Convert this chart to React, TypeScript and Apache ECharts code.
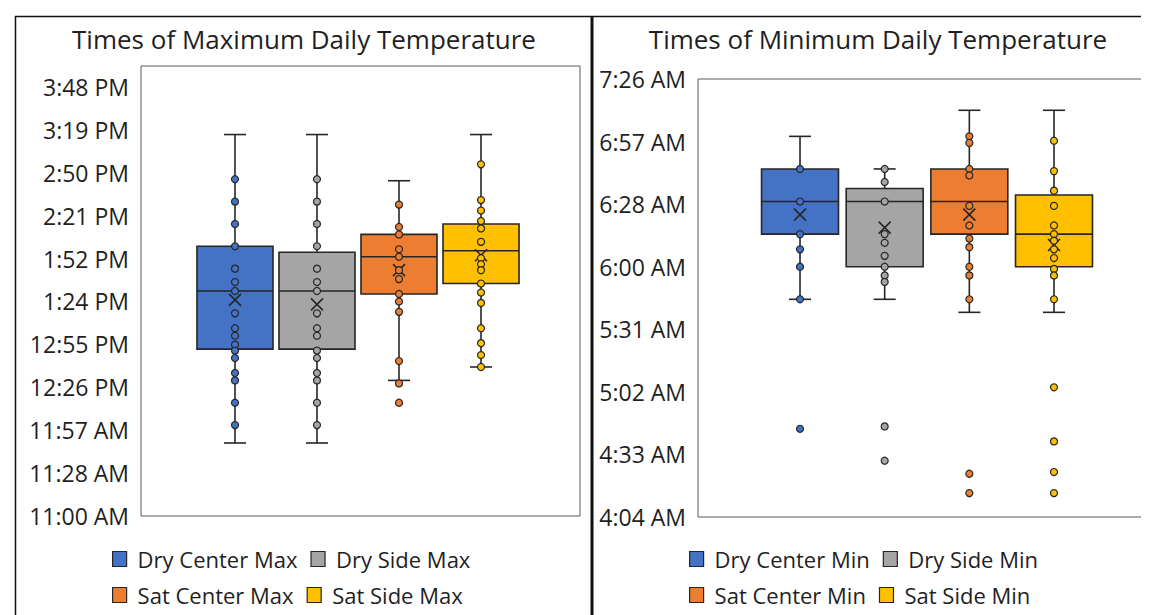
import React, { useEffect, useRef } from 'react';
import * as echarts from 'echarts';

const MAX_CATEGORIES = ['Dry Center Max', 'Dry Side Max', 'Sat Center Max', 'Sat Side Max'];
const MIN_CATEGORIES = ['Dry Center Min', 'Dry Side Min', 'Sat Center Min', 'Sat Side Min'];
const COLORS = ['#4472C4', '#A5A5A5', '#ED7D31', '#FFC000'];

// Box statistics in minutes after midnight: [low whisker, Q1, median, Q3, high whisker, mean]
const MAX_BOXES = [
  [709, 772, 811, 841, 916, 805],
  [709, 772, 811, 837, 916, 802],
  [751, 809, 834, 849, 885, 825],
  [760, 816, 838, 856, 916, 835],
];
const MIN_BOXES = [
  [345, 375, 390, 405, 420, 384],
  [345, 360, 390, 396, 405, 378],
  [339, 375, 390, 405, 432, 384],
  [339, 360, 375, 393, 432, 370],
];

// Individual points (inner points and outliers), minutes after midnight
const MAX_POINTS = [
  [886, 871, 856, 841, 826, 817, 811, 796, 786, 781, 775, 771, 766, 756, 751, 736, 721],
  [886, 871, 856, 841, 826, 817, 811, 796, 786, 781, 771, 766, 756, 751, 736, 721],
  [869, 854, 849, 839, 834, 825, 819, 809, 804, 797, 764, 749, 736],
  [896, 872, 865, 858, 853, 844, 833, 829, 825, 816, 810, 803, 786, 776, 768, 760],
];
const MIN_POINTS = [
  [405, 390, 375, 368, 360, 345, 285.4],
  [405, 399, 390, 375, 371, 365, 360, 356, 353, 286.5, 270.7],
  [420, 417, 405, 402, 388, 379, 373, 369, 360, 356, 345, 264.7, 255.8],
  [418, 404, 395, 388, 379, 375, 372, 368, 364, 359, 356, 345, 304.5, 279.6, 265.5, 255.8],
];

// Axis ranges (minutes after midnight) and tick step (0.02 day)
const MAX_AXIS = { min: 660, max: 962, step: 28.8 };
const MIN_AXIS = { min: 244.8, max: 446.4, step: 28.8 };

const TITLES = ['Times of Maximum Daily Temperature', 'Times of Minimum Daily Temperature'];

const FONT = '"Open Sans", "Noto Sans", sans-serif';
const TEXT = '#1f1f1f';
const EDGE = '#262626';

function fmtTime(m: number): string {
  const t = Math.floor(m + 1e-6);
  const h = Math.floor(t / 60);
  const mm = t % 60;
  const ap = h >= 12 ? 'PM' : 'AM';
  let h12 = h % 12;
  if (h12 === 0) h12 = 12;
  return `${h12}:${String(mm).padStart(2, '0')} ${ap}`;
}

function makeRender(color: string, boxW: number) {
  return (params: any, api: any) => {
    const x = api.value(0);
    const low = api.coord([x, api.value(1)]);
    const q1 = api.coord([x, api.value(2)]);
    const med = api.coord([x, api.value(3)]);
    const q3 = api.coord([x, api.value(4)]);
    const high = api.coord([x, api.value(5)]);
    const mean = api.coord([x, api.value(6)]);
    const half = api.size([boxW, 0])[0] / 2;
    const cx = low[0];
    const cap = 11;
    const xs = 6;
    const ls = { stroke: EDGE, lineWidth: 1.6 };
    return {
      type: 'group',
      children: [
        { type: 'line', shape: { x1: cx, y1: high[1], x2: cx, y2: q3[1] }, style: ls },
        { type: 'line', shape: { x1: cx, y1: q1[1], x2: cx, y2: low[1] }, style: ls },
        { type: 'line', shape: { x1: cx - cap, y1: high[1], x2: cx + cap, y2: high[1] }, style: ls },
        { type: 'line', shape: { x1: cx - cap, y1: low[1], x2: cx + cap, y2: low[1] }, style: ls },
        {
          type: 'rect',
          shape: { x: cx - half, y: q3[1], width: half * 2, height: q1[1] - q3[1] },
          style: { fill: color, stroke: EDGE, lineWidth: 1.6 },
        },
        { type: 'line', shape: { x1: cx - half, y1: med[1], x2: cx + half, y2: med[1] }, style: ls },
        { type: 'line', shape: { x1: cx - xs, y1: mean[1] - xs, x2: cx + xs, y2: mean[1] + xs }, style: ls, z2: 20 },
        { type: 'line', shape: { x1: cx - xs, y1: mean[1] + xs, x2: cx + xs, y2: mean[1] - xs }, style: ls, z2: 20 },
      ],
    };
  };
}

function buildSeries(
  cats: string[],
  boxes: number[][],
  points: number[][],
  axis: { min: number },
  gi: number,
  boxW: number
) {
  const out: any[] = [];
  cats.forEach((name, i) => {
    out.push({
      type: 'custom',
      name,
      xAxisIndex: gi,
      yAxisIndex: gi,
      itemStyle: { color: COLORS[i] },
      renderItem: makeRender(COLORS[i], boxW),
      encode: { x: 0, y: [1, 2, 3, 4, 5, 6] },
      data: [[i, ...boxes[i].map((v) => v - axis.min)]],
      z: 2,
    });
  });
  cats.forEach((name, i) => {
    out.push({
      type: 'scatter',
      name,
      xAxisIndex: gi,
      yAxisIndex: gi,
      symbol: 'circle',
      symbolSize: 7,
      itemStyle: { color: COLORS[i], borderColor: EDGE, borderWidth: 1.2, opacity: 1 },
      data: points[i].map((v) => [i, v - axis.min]),
      z: 5,
    });
  });
  return out;
}

function yAxisFor(axis: { min: number; max: number; step: number }, gi: number) {
  return {
    type: 'value',
    gridIndex: gi,
    min: 0,
    max: axis.max - axis.min,
    interval: axis.step,
    axisLine: { show: false },
    axisTick: { show: false },
    splitLine: { show: false },
    axisLabel: {
      margin: 12,
      fontSize: 23,
      fontFamily: FONT,
      color: TEXT,
      formatter: (v: number) => {
        const k = v / axis.step;
        if (Math.abs(k - Math.round(k)) > 1e-6) return '';
        return fmtTime(v + axis.min);
      },
    },
  };
}

function legendRows(cats: string[], left: number) {
  const rows = [
    [0, 1],
    [2, 3],
  ];
  return rows.map((r, ri) => ({
    left,
    top: 540 + ri * 36,
    orient: 'horizontal',
    padding: 0,
    itemGap: 13,
    itemWidth: 14,
    itemHeight: 15,
    selectedMode: false,
    textStyle: {
      fontSize: 22,
      fontFamily: FONT,
      color: TEXT,
      width: 169,
      padding: [0, 0, 0, 6],
    },
    data: r.map((i) => ({
      name: cats[i],
      icon: 'rect',
      itemStyle: { color: COLORS[i], borderColor: EDGE, borderWidth: 1.2 },
    })),
  }));
}

export default function App() {
  const ref = useRef<HTMLDivElement>(null);
  useEffect(() => {
    if (!ref.current) return;
    const chart = echarts.init(ref.current, null, { renderer: 'svg' });
    const option: any = {
      animation: false,
      backgroundColor: '#ffffff',
      title: [
        {
          text: TITLES[0],
          left: 296,
          top: 18,
          textAlign: 'center',
          padding: 0,
          textStyle: { fontSize: 26, fontWeight: 'normal', fontFamily: FONT, color: TEXT },
        },
        {
          text: TITLES[1],
          left: 870,
          top: 18,
          textAlign: 'center',
          padding: 0,
          textStyle: { fontSize: 26, fontWeight: 'normal', fontFamily: FONT, color: TEXT },
        },
      ],
      grid: [
        { left: 133, top: 58, width: 439, height: 450, show: true, borderColor: '#595959', borderWidth: 1, containLabel: false },
        { left: 690, top: 71, width: 457, height: 438, show: true, borderColor: '#595959', borderWidth: 1, containLabel: false },
      ],
      xAxis: [
        { type: 'value', gridIndex: 0, min: -1.146, max: 4.207, show: false },
        { type: 'value', gridIndex: 1, min: -1.205, max: 4.193, show: false },
      ],
      yAxis: [yAxisFor(MAX_AXIS, 0), yAxisFor(MIN_AXIS, 1)],
      legend: [...legendRows(MAX_CATEGORIES, 104), ...legendRows(MIN_CATEGORIES, 681)],
      tooltip: { show: false },
      graphic: [
        { type: 'line', shape: { x1: 7.5, y1: 8, x2: 7.5, y2: 615 }, style: { stroke: '#111', lineWidth: 1.5 } },
        { type: 'line', shape: { x1: 7, y1: 8.5, x2: 1149, y2: 8.5 }, style: { stroke: '#111', lineWidth: 1.5 } },
        { type: 'line', shape: { x1: 584, y1: 8, x2: 584, y2: 615 }, style: { stroke: '#111', lineWidth: 3 } },
      ],
      series: [
        ...buildSeries(MAX_CATEGORIES, MAX_BOXES, MAX_POINTS, MAX_AXIS, 0, 0.927),
        ...buildSeries(MIN_CATEGORIES, MIN_BOXES, MIN_POINTS, MIN_AXIS, 1, 0.909),
      ],
    };
    chart.setOption(option);
    return () => chart.dispose();
  }, []);
  return (
    <div
      ref={ref}
      style={{ position: 'fixed', left: 0, top: 0, width: 1149, height: 615, background: '#fff' }}
    />
  );
}
